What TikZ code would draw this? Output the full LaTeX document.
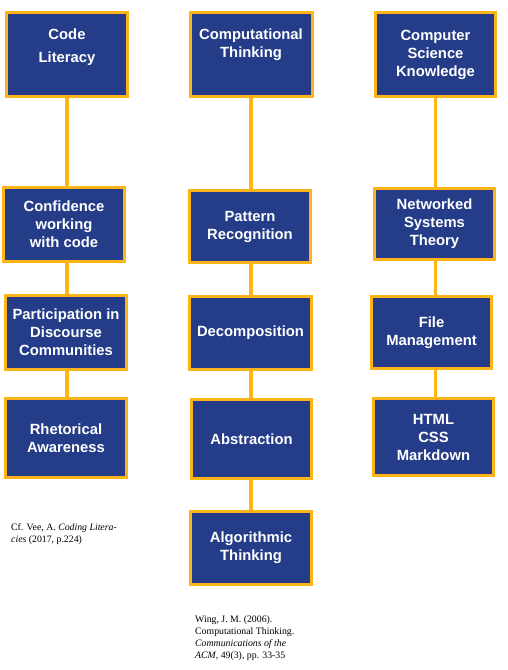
\documentclass[tikz,border=0pt]{standalone}
\usepackage{fontspec}
\setmainfont{Liberation Serif}
\newfontfamily\boxfont{Liberation Sans}
\usepackage{tikz}
\usetikzlibrary{calc}
\definecolor{boxblue}{RGB}{37,61,137}
\definecolor{boxgold}{RGB}{252,180,22}
\tikzset{
	skill/.style={draw=boxgold, fill=boxblue, line width=3pt, text=white, align=center,
		inner sep=0pt, font=\boxfont\bfseries\fontsize{14.8}{18}\selectfont},
	link/.style={draw=boxgold, line width=3.5pt},
	cite/.style={anchor=north west, inner sep=0pt, align=left,
		font=\fontsize{9.8}{12.3}\selectfont}
}
\begin{document}
\begin{tikzpicture}[x=1pt, y=-1pt]
			%%%%% START %%%%%
			\useasboundingbox (0, 0) rectangle (507, 670);
			
			\node[skill, minimum width=121pt, minimum height=84pt, text depth=18pt] (code) at (67, 54.5) {Code\\[5pt]Literacy};
			\node[skill, minimum width=121pt, minimum height=74pt] (confidence) at (64, 224.5) {Confidence\\working\\with code};
			\node[skill, minimum width=121pt, minimum height=74pt] (discourse) at (66, 332.5) {Participation in\\Discourse\\Communities};
			\node[skill, minimum width=121pt, minimum height=79pt] (rhetoric) at (66, 438) {Rhetorical\\Awareness};
			
			\node[skill, minimum width=122pt, minimum height=84pt, text depth=22pt] (ct) at (251, 54.5) {Computational\\Thinking};
			\node[skill, minimum width=121pt, minimum height=72pt] (pattern) at (250, 226.5) {Pattern\\Recognition};
			\node[skill, minimum width=122pt, minimum height=73pt] (decomp) at (250.5, 333) {Decomposition};
			\node[skill, minimum width=120pt, minimum height=79pt] (abstract) at (251.5, 439) {Abstraction};
			\node[skill, minimum width=121pt, minimum height=73pt] (algo) at (251, 548) {Algorithmic\\Thinking};
			
			\node[skill, minimum width=120pt, minimum height=84pt] (csk) at (435.5, 54.5) {Computer\\Science\\Knowledge};
			\node[skill, minimum width=120pt, minimum height=71pt] (network) at (434.5, 224) {Networked\\Systems\\Theory};
			\node[skill, minimum width=120pt, minimum height=72pt] (files) at (431.5, 332.5) {File\\Management};
			\node[skill, minimum width=120pt, minimum height=77pt] (markup) at (433.5, 437) {HTML\\CSS\\Markdown};
			
			\draw[link] (code.south) -- (code.south |- confidence.north);
			\draw[link] (code.south |- confidence.south) -- (code.south |- discourse.north);
			\draw[link] (code.south |- discourse.south) -- (code.south |- rhetoric.north);
			
			\draw[link] (ct.south) -- (ct.south |- pattern.north);
			\draw[link] (ct.south |- pattern.south) -- (ct.south |- decomp.north);
			\draw[link] (ct.south |- decomp.south) -- (ct.south |- abstract.north);
			\draw[link] (ct.south |- abstract.south) -- (ct.south |- algo.north);
			
			\draw[link] (network.north -| csk.south) -- (csk.south);
			\draw[link] (network.south -| csk.south) -- (files.north -| csk.south);
			\draw[link] (files.south -| csk.south) -- (markup.north -| csk.south);
			
			\node[cite] (vee) at (11, 523) {Cf. Vee, A. \textit{Coding Litera-}\\\textit{cies} (2017, p.224)};
			\node[cite] (wing) at (195, 615) {Wing, J. M. (2006).\\Computational Thinking.\\\textit{Communications of the}\\\textit{ACM}, 49(3), pp. 33-35};
			
			%%%%% END %%%%%
		\end{tikzpicture}
\end{document}
